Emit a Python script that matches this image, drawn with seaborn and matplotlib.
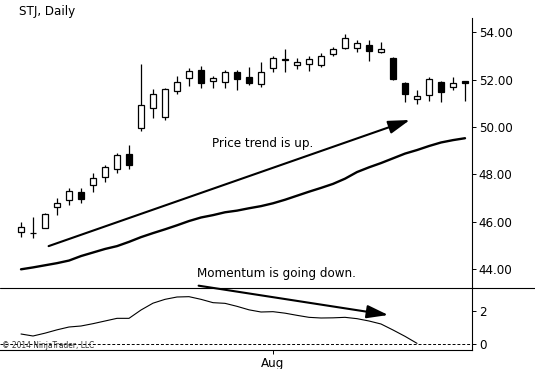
import matplotlib
matplotlib.use("Agg")
import matplotlib.pyplot as plt
from matplotlib.lines import Line2D
import numpy as np
import seaborn as sns

# daily candles (STJ)
opens = [45.58, 45.51, 45.75, 46.61, 46.92, 47.24, 47.55, 47.90, 48.22, 48.85,
         49.95, 50.79, 50.44, 51.53, 52.06, 52.41, 51.95, 51.89, 52.32, 52.13,
         51.82, 52.49, 52.84, 52.61, 52.67, 52.64, 53.09, 53.33, 53.36, 53.47,
         53.19, 52.91, 51.85, 51.19, 51.36, 51.89, 51.70, 51.95]
highs = [46.00, 46.19, 46.36, 46.99, 47.41, 47.41, 48.07, 48.40, 48.89, 49.24,
         52.66, 51.60, 51.64, 52.17, 52.49, 52.60, 52.17, 52.41, 52.41, 52.53,
         52.74, 53.01, 53.30, 52.91, 53.01, 53.15, 53.40, 53.94, 53.68, 53.68,
         53.61, 52.98, 51.92, 51.57, 52.13, 51.95, 52.13, 51.95]
lows = [45.37, 45.30, 45.72, 46.28, 46.71, 46.80, 47.27, 47.67, 48.07, 48.23,
        49.84, 50.37, 50.30, 51.39, 51.75, 51.64, 51.64, 51.67, 51.57, 51.78,
        51.68, 52.34, 52.34, 52.44, 52.38, 52.53, 53.01, 53.29, 53.16, 52.79,
        53.12, 51.99, 51.05, 50.96, 51.10, 51.05, 51.57, 51.10]
closes = [45.79, 45.52, 46.31, 46.80, 47.30, 46.97, 47.86, 48.33, 48.82, 48.40,
          50.93, 51.40, 51.61, 51.89, 52.37, 51.85, 52.06, 52.32, 52.03, 51.85,
          52.32, 52.91, 52.85, 52.74, 52.87, 53.01, 53.29, 53.75, 53.54, 53.22,
          53.30, 52.02, 51.39, 51.31, 52.03, 51.50, 51.85, 51.88]

moving_avg = [43.99, 44.07, 44.16, 44.25, 44.36, 44.55, 44.70, 44.85, 44.97, 45.15,
              45.35, 45.52, 45.68, 45.85, 46.03, 46.18, 46.28, 46.40, 46.47, 46.57,
              46.66, 46.78, 46.93, 47.10, 47.27, 47.43, 47.60, 47.82, 48.10, 48.30,
              48.48, 48.68, 48.88, 49.03, 49.20, 49.35, 49.45, 49.53]

momentum = [0.60, 0.48, 0.65, 0.85, 1.02, 1.08, 1.22, 1.38, 1.54, 1.54,
            2.04, 2.45, 2.68, 2.82, 2.84, 2.68, 2.48, 2.44, 2.26, 2.05,
            1.92, 1.94, 1.85, 1.72, 1.60, 1.56, 1.57, 1.60, 1.52, 1.38,
            1.20, 0.84, 0.46, 0.04]

price_ticks = [44, 46, 48, 50, 52, 54]
momentum_ticks = [0, 2]
month_tick = 21
month_label = "Aug"

sns.set_theme(style="white")
plt.rcParams["font.family"] = ["DejaVu Sans"]
plt.rcParams["font.stretch"] = "condensed"
plt.rcParams["text.color"] = "black"

fig = plt.figure(figsize=(5.35, 3.69), dpi=100)
ax_top = fig.add_axes([0, 0.2195, 0.8822, 0.7317])
ax_bot = fig.add_axes([0, 0.0515, 0.8822, 0.168])

idx = np.arange(len(opens))
o = np.array(opens)
c = np.array(closes)
up = c >= o

# candles
ax_top.vlines(idx, lows, highs, color="black", lw=0.9, zorder=2)
body = np.maximum(np.abs(c - o), 0.025)
ax_top.bar(idx[up], body[up], bottom=np.minimum(o, c)[up], width=0.5,
           color="white", edgecolor="black", linewidth=0.9, zorder=3)
ax_top.bar(idx[~up], body[~up], bottom=np.minimum(o, c)[~up], width=0.5,
           color="black", edgecolor="black", linewidth=0.9, zorder=3)

sns.lineplot(x=idx, y=moving_avg, ax=ax_top, color="black", lw=1.7)

ax_top.annotate("", xy=(32.4, 50.30), xytext=(2.3, 44.97),
                arrowprops=dict(arrowstyle="-|>,head_length=1.3,head_width=0.4",
                                lw=1.5, color="black", mutation_scale=10,
                                shrinkA=0, shrinkB=0))
ax_top.text(20.1, 49.31, "Price trend is up.", ha="center", va="center", fontsize=9.5)
ax_top.text(21.3, 43.82, "Momentum is going down.", ha="center", va="center", fontsize=9.5)
fig.text(0.036, 0.968, "STJ, Daily", ha="left", va="center", fontsize=9.5)

ax_top.set_xlim(-1.75, 37.58)
ax_top.set_ylim(43.20, 54.61)
ax_top.set_yticks(price_ticks)
ax_top.set_yticklabels([f"{t:.2f}" for t in price_ticks])
ax_top.set_xticks([])

# momentum panel
sns.lineplot(x=np.arange(len(momentum)), y=momentum, ax=ax_bot, color="black", lw=0.8)
ax_bot.axhline(0, color="black", lw=0.7, ls=(0, (3, 2)))
ax_bot.annotate("", xy=(30.6, 1.74), xytext=(14.8, 3.50), annotation_clip=False,
                arrowprops=dict(arrowstyle="-|>,head_length=1.3,head_width=0.4",
                                lw=1.5, color="black", mutation_scale=10,
                                shrinkA=0, shrinkB=0))
ax_bot.text(-1.6, -0.08, "\u00a9 2014 NinjaTrader, LLC",
            ha="left", va="center", fontsize=6, color="#333333")
ax_bot.set_xlim(-1.75, 37.58)
ax_bot.set_ylim(-0.36, 3.36)
ax_bot.set_yticks(momentum_ticks)
ax_bot.set_xticks([month_tick])
ax_bot.set_xticklabels([month_label])

for ax in (ax_top, ax_bot):
    ax.set_facecolor("white")
    ax.yaxis.tick_right()
    for side in ("top", "left"):
        ax.spines[side].set_visible(False)
    ax.spines["right"].set_color("black")
    ax.spines["right"].set_linewidth(0.8)
    ax.tick_params(axis="both", which="both", direction="out", length=3, width=0.7,
                   color="black", labelsize=9.5, pad=2, labelcolor="black",
                   right=True, bottom=True, left=False)
    ax.set_xlabel("")
    ax.set_ylabel("")
ax_top.spines["bottom"].set_visible(False)
ax_bot.spines["bottom"].set_color("black")
ax_bot.spines["bottom"].set_linewidth(0.8)

fig.add_artist(Line2D([0, 1], [0.2195, 0.2195], transform=fig.transFigure,
                      color="black", lw=0.8))

fig.savefig("out.png", dpi=100)
